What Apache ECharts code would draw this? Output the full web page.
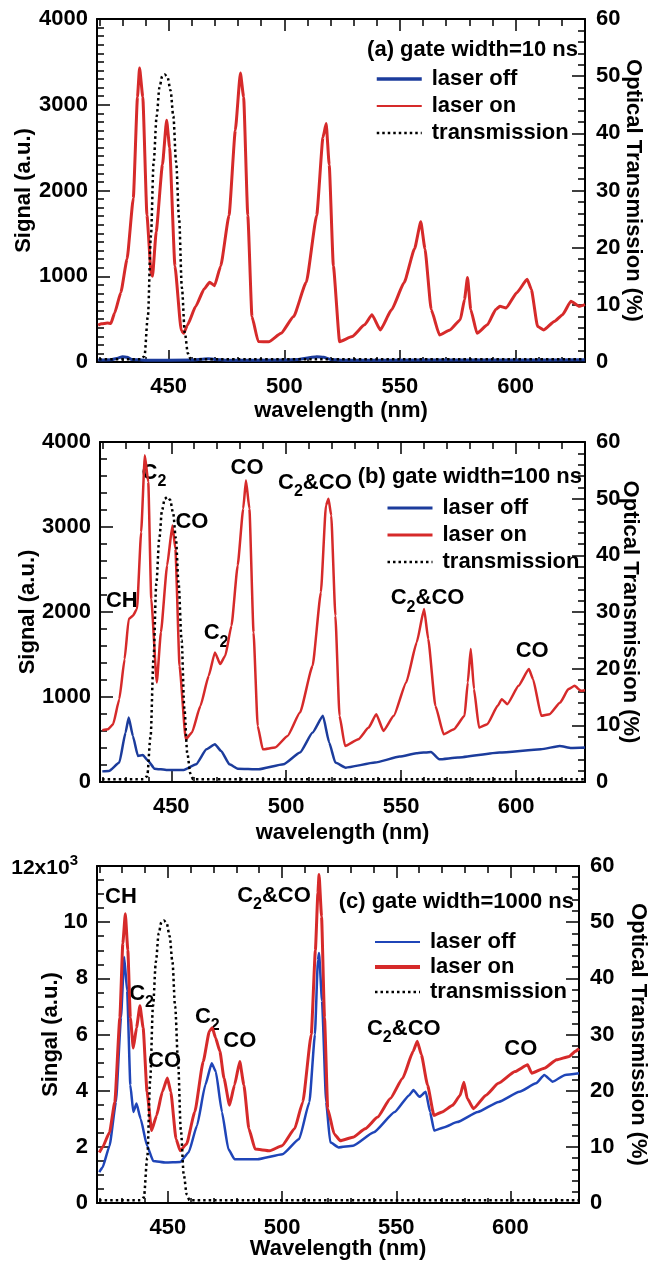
<!DOCTYPE html>
<html>
<head>
<meta charset="utf-8">
<script src="https://cdn.jsdelivr.net/npm/echarts@6/dist/echarts.min.js"></script>
<style>
  html, body { margin: 0; padding: 0; background: #fff; }
  #chart { width: 648px; height: 1263px; }
</style>
</head>
<body>
<div id="chart"></div>
<script>
// ---- axis values ----
const wavelengthTicks = [420, 430, 440, 450, 460, 470, 480, 490, 500, 510, 520, 530, 540, 550, 560, 570, 580, 590, 600, 610, 620, 630];
const wavelengthLabels = [450, 500, 550, 600];

// ---- filter transmission (%) vs wavelength (nm), same filter in every panel ----
const transmission = [[420, 0.5], [438, 0.5], [439.5, 1], [441, 8], [442.3, 22], [443.5, 35], [444.8, 43], [446, 48], [447.2, 50], [448.3, 50.3], [449.5, 49.8], [450.8, 47.5], [452, 43], [453.2, 35], [454.5, 25], [455.7, 13], [457, 5], [458.3, 1.5], [459.5, 0.5], [630, 0.5]];

// ---- (a) gate width = 10 ns ----
const laserOffA = [[419.5, 22], [425, 25], [428, 45], [430, 62], [432, 55], [434, 30], [440, 20], [460, 22], [464, 32], [467, 38], [470, 30], [475, 20], [500, 22], [506, 30], [510, 48], [514, 62], [517, 55], [520, 30], [525, 20], [560, 22], [600, 24], [630, 25]];
const laserOnA = [[419.5, 430], [421, 445], [423.5, 455], [425, 450], [426.6, 570], [429.3, 810], [432, 1200], [434.7, 1910], [436.5, 3090], [437.4, 3430], [438.8, 3090], [440.6, 1710], [442.4, 1040], [443, 1000], [444.6, 1520], [447.3, 2300], [449.1, 2820], [450.4, 2500], [452.7, 1120], [455.4, 370], [456.5, 335], [458.1, 430], [461.7, 650], [465.3, 850], [467.7, 930], [469.8, 890], [472.5, 1120], [476.1, 1710], [478.8, 2700], [481, 3370], [482.4, 3090], [484.2, 1710], [486, 530], [488.7, 240], [493.2, 235], [498.6, 335], [504, 530], [509.5, 930], [514, 1710], [516.7, 2620], [518.1, 2780], [519.4, 2300], [521.2, 1120], [523.9, 236], [529.3, 296], [534.7, 433], [537.9, 552], [541.5, 374], [546.4, 611], [551.8, 926], [556.3, 1320], [559, 1635], [560.8, 1320], [563.5, 611], [567.1, 315], [571.6, 374], [576.1, 493], [577.9, 729], [579.2, 985], [580.6, 611], [583.3, 335], [587.8, 433], [591.4, 611], [593.2, 650], [595.9, 630], [600.5, 808], [605, 965], [606.8, 847], [609.5, 414], [612.2, 374], [616.7, 473], [620.3, 552], [623.9, 709], [627.5, 650], [630, 670]];
const notesA = [];

// ---- (b) gate width = 100 ns ----
const laserOffB = [[420, 125], [422.9, 130], [427.4, 228], [430.1, 582], [431.5, 758], [433.3, 542], [435.5, 307], [437.6, 318], [440, 248], [442.7, 157], [448.2, 141], [455.4, 141], [460.8, 208], [465.3, 385], [469, 444], [471.7, 365], [475.3, 208], [478.9, 157], [488, 149], [498.8, 208], [506, 346], [511.5, 582], [516, 778], [518.7, 464], [521.4, 228], [525.9, 169], [538.6, 228], [549.4, 299], [556.6, 338], [563, 354], [566.6, 267], [574.7, 287], [592.8, 346], [610.8, 385], [619, 424], [624, 400], [630, 405]];
const laserOnB = [[420, 610], [422.5, 621], [424.7, 680], [427.4, 975], [429.7, 1446], [431.5, 1918], [433.3, 1957], [435.1, 2036], [436.9, 2940], [438.5, 3844], [440, 3529], [441.3, 2154], [443.7, 1171], [445.5, 1761], [448.2, 2547], [450.5, 3018], [451.8, 2743], [453.6, 1368], [456.3, 503], [459, 582], [462.7, 896], [466.3, 1250], [469, 1525], [471.3, 1387], [473.5, 1486], [476.2, 1839], [478.9, 2547], [481.3, 3215], [482.5, 3549], [484, 3215], [485.8, 1761], [487.6, 660], [489.8, 385], [495.2, 405], [500.6, 542], [506, 817], [511.5, 1368], [515.1, 2232], [517.3, 3254], [518.4, 3333], [519.6, 3136], [521.4, 1957], [523.2, 778], [525.6, 424], [531.4, 503], [535.9, 641], [539.2, 798], [542.3, 601], [546.8, 778], [552.2, 1171], [556.8, 1643], [560, 2036], [561.8, 1682], [564.9, 896], [568.5, 562], [573, 621], [577.6, 778], [579, 1171], [580.3, 1564], [581.7, 1093], [583.9, 641], [587.5, 680], [592, 896], [593.8, 975], [596.2, 916], [601.1, 1132], [605.6, 1328], [607.4, 1210], [611, 778], [614.6, 798], [619.2, 935], [622.8, 1093], [625.5, 1132], [628.2, 1073], [630, 1080]];
const notesB = [['CH', 428.5, 2130], ['C₂', 442.5, 3640], ['CO', 459, 3060], ['C₂', 469.5, 1750], ['CO', 483, 3700], ['C₂&CO', 512.5, 3520], ['C₂&CO', 561.5, 2160], ['CO', 607, 1545]];

// ---- (c) gate width = 1000 ns ----
const laserOffC = [[420, 1100], [421.4, 1260], [424.5, 2040], [427.3, 3600], [429.5, 6600], [430.9, 8760], [432.2, 7560], [433.6, 4200], [434.9, 3240], [436.3, 3540], [438.1, 3000], [440.9, 2040], [443.6, 1500], [449.1, 1440], [455.4, 1460], [459.1, 1800], [462.8, 2760], [466.4, 4200], [469.2, 4980], [471, 4680], [473.7, 3240], [476.5, 1920], [479.2, 1560], [489.2, 1560], [500.2, 1740], [507.5, 2280], [512, 3600], [514.4, 6000], [515.7, 8640], [516.2, 8900], [517.5, 7200], [519.3, 3600], [521.1, 2160], [524.8, 1980], [531.1, 2040], [540.2, 2520], [549.3, 3240], [555.7, 3840], [557.5, 4020], [560.2, 3780], [562.9, 3960], [564.8, 3240], [566.6, 2580], [571.1, 2700], [576.6, 2880], [585.7, 3240], [594.8, 3600], [603.9, 3960], [611.2, 4260], [614.8, 4560], [618.5, 4320], [623.9, 4560], [630, 4620]];
const laserOnC = [[420, 1800], [421.4, 1980], [424.5, 2520], [426.8, 3600], [429, 6600], [430.3, 9240], [431.4, 10300], [432.5, 9000], [433.6, 6600], [434.9, 5520], [436.3, 6240], [437.8, 7020], [439.2, 6240], [440.9, 3960], [442.9, 2580], [445.1, 3120], [447.6, 3960], [449.8, 4450], [451.3, 3960], [453.6, 2280], [455.4, 1860], [458.2, 2100], [461.8, 3240], [465.5, 5040], [468.2, 6120], [469.5, 6240], [470.9, 5880], [472.8, 5400], [474.6, 4440], [477, 3480], [479.2, 4200], [481.5, 5040], [483.3, 4200], [485.5, 2640], [488.2, 1920], [494.6, 1860], [500, 2040], [505.5, 2640], [509.1, 3600], [512.8, 6000], [514.6, 9000], [515.7, 11040], [516.2, 11700], [517.3, 10200], [518.6, 6600], [520, 3360], [522.8, 2460], [525.5, 2220], [531, 2340], [536.4, 2640], [541.9, 3060], [547.4, 3720], [552.8, 4440], [557.4, 5400], [559.2, 5760], [561, 5280], [563.7, 4200], [566.5, 3120], [570.1, 3240], [574.7, 3480], [578, 3840], [579.6, 4300], [581.1, 3720], [583.8, 3360], [589.3, 3840], [594.7, 4260], [602, 4680], [607.5, 4920], [609.3, 4620], [614.8, 4800], [620.2, 5100], [625.7, 5220], [628.4, 5400], [630, 5500]];
const notesC = [['CH', 429.5, 10900], ['C₂', 438.5, 7450], ['CO', 448.6, 5060], ['C₂', 467.3, 6620], ['CO', 481.5, 5780], ['C₂&CO', 496.5, 10930], ['C₂&CO', 553.3, 6200], ['CO', 604.5, 5480]];

// ---- shared styling ----
const FONT = '"Liberation Sans", Arial, Helvetica, sans-serif';
const BLACK = '#000';
const RED = '#d62a2a';
const BLUE = '#1c3c9c';
const BLUE_C = '#1f45b8';
const WL_MIN = 419, WL_MAX = 630;
const txt = (size) => ({ color: BLACK, fontSize: size, fontWeight: 'bold', fontFamily: FONT, textBorderWidth: 0 });
const subRich = {
  m: { ...txt(22), lineHeight: 22, verticalAlign: 'top' },
  s: { ...txt(16), lineHeight: 16, padding: [12, 0, 0, 0], verticalAlign: 'top' }
};
// "C₂&CO" -> rich text with a lowered 2
const richLabel = (s) => s.split('₂').map(p => p ? '{m|' + p + '}' : '').join('{s|2}');

const panels = [
  { id: 'a', grid: { left: 97, right: 63, top: 19, height: 343 },
    title: '(a) gate width=10 ns', titlePos: { right: 70, top: 39 },
    legendPos: { left: 375, top: 68 }, legendGap: 5,
    legendStyles: [{ color: BLUE, width: 3.5 }, { color: RED, width: 2 }],
    xName: 'wavelength (nm)', xNameGap: 38,
    yName: 'Signal (a.u.)', yNameGap: 62, yMax: 4000, yInterval: 1000, yMinor: 10,
    yFormatter: (v) => '{k|' + v + '}',
    rNameGap: 37,
    off: laserOffA, on: laserOnA, offStyle: { color: BLUE, width: 3 }, onStyle: { color: RED, width: 3 }, notes: notesA },
  { id: 'b', grid: { left: 100, right: 63, top: 442, height: 340 },
    title: '(b) gate width=100 ns', titlePos: { right: 66, top: 466 },
    legendPos: { left: 386, top: 497 }, legendGap: 5,
    legendStyles: [{ color: BLUE, width: 3 }, { color: RED, width: 3 }],
    xName: 'wavelength (nm)', xNameGap: 40,
    yName: 'Signal (a.u.)', yNameGap: 61, yMax: 4000, yInterval: 1000, yMinor: 5,
    yFormatter: (v) => '{k|' + v + '}',
    rNameGap: 34,
    off: laserOffB, on: laserOnB, offStyle: { color: BLUE, width: 2.5 }, onStyle: { color: RED, width: 2.5 }, notes: notesB },
  { id: 'c', grid: { left: 97, right: 69, top: 866, height: 337 },
    title: '(c) gate width=1000 ns', titlePos: { right: 74, top: 891 },
    legendPos: { left: 373, top: 931 }, legendGap: 3,
    legendStyles: [{ color: BLUE_C, width: 2 }, { color: RED, width: 4 }],
    xName: 'Wavelength (nm)', xNameGap: 35,
    yName: 'Singal (a.u.)', yNameGap: 35, yMax: 12000, yInterval: 2000, yMinor: 4,
    yFormatter: (v) => v === 12000 ? '{e|12x10}{p|3}' : '{k|' + (v / 1000) + '}',
    rNameGap: 48,
    off: laserOffC, on: laserOnC, offStyle: { color: BLUE_C, width: 2.5 }, onStyle: { color: RED, width: 3 }, notes: notesC }
];

const option = { animation: false, backgroundColor: '#fff', grid: [], xAxis: [], yAxis: [], series: [], legend: [], title: [] };
const tickLine = { color: BLACK, width: 1.5 };
const frameLine = { show: true, onZero: false, lineStyle: { color: BLACK, width: 2 } };

panels.forEach((p, i) => {
  option.grid.push({ ...p.grid, containLabel: false, outerBoundsMode: 'none' });
  const xBase = option.xAxis.length;
  const xCommon = { gridIndex: i, type: 'value', min: WL_MIN, max: WL_MAX, splitLine: { show: false } };
  // bottom: frame line, minor ticks and labels
  option.xAxis.push({ ...xCommon, position: 'bottom', axisLine: frameLine,
    axisTick: { inside: true, length: 5, customValues: wavelengthTicks, lineStyle: tickLine },
    axisLabel: { customValues: wavelengthLabels, margin: 14, ...txt(22), formatter: (v) => String(v) },
    name: p.xName, nameLocation: 'middle', nameGap: p.xNameGap, nameMoveOverlap: false, nameTextStyle: txt(22) });
  // bottom: long ticks at labelled wavelengths
  option.xAxis.push({ ...xCommon, position: 'bottom', axisLine: { show: false, onZero: false },
    axisTick: { inside: true, length: 12, customValues: wavelengthLabels, lineStyle: tickLine }, axisLabel: { show: false } });
  // top frame with mirrored ticks
  option.xAxis.push({ ...xCommon, position: 'top', axisLine: frameLine,
    axisTick: { inside: true, length: 7, customValues: wavelengthTicks, lineStyle: tickLine }, axisLabel: { show: false } });
  option.xAxis.push({ ...xCommon, position: 'top', axisLine: { show: false, onZero: false },
    axisTick: { inside: true, length: 12, customValues: wavelengthLabels, lineStyle: tickLine }, axisLabel: { show: false } });

  const yBase = option.yAxis.length;
  option.yAxis.push({ gridIndex: i, type: 'value', position: 'left', min: 0, max: p.yMax, interval: p.yInterval,
    axisLine: frameLine, splitLine: { show: false },
    axisTick: { inside: true, length: 13, lineStyle: tickLine },
    minorTick: { show: true, splitNumber: p.yMinor, length: 7, lineStyle: tickLine },
    axisLabel: { margin: 9, ...txt(22),
      formatter: p.yFormatter,
      rich: {
        k: { ...txt(22), verticalAlign: 'bottom' },
        e: { ...txt(21), verticalAlign: 'bottom' },
        p: { ...txt(15), verticalAlign: 'bottom', padding: [0, 10, 10, 0] }
      } },
    name: p.yName, nameLocation: 'middle', nameGap: p.yNameGap, nameMoveOverlap: false, nameTextStyle: txt(22) });
  option.yAxis.push({ gridIndex: i, type: 'value', position: 'right', min: 0, max: 60, interval: 10,
    axisLine: frameLine, splitLine: { show: false },
    axisTick: { inside: true, length: 13, lineStyle: tickLine },
    minorTick: { show: true, splitNumber: 5, length: 7, lineStyle: tickLine },
    axisLabel: { margin: 11, ...txt(22), formatter: (v) => String(v) },
    name: 'Optical Transmission (%)', nameLocation: 'middle', nameRotate: -90, nameGap: p.rNameGap,
    nameMoveOverlap: false, nameTextStyle: txt(22) });

  const lineCommon = { type: 'line', xAxisIndex: xBase, symbol: 'none', showSymbol: false, smooth: 0.15, smoothMonotone: 'x', silent: true };
  option.series.push({ ...lineCommon, name: 'laser off', yAxisIndex: yBase, data: p.off, lineStyle: p.offStyle, itemStyle: { color: p.offStyle.color } });
  option.series.push({ ...lineCommon, name: 'laser on', yAxisIndex: yBase, data: p.on, lineStyle: p.onStyle, itemStyle: { color: p.onStyle.color } });
  option.series.push({ ...lineCommon, name: 'transmission', yAxisIndex: yBase + 1, data: transmission,
    smooth: 0.3,
    lineStyle: { color: BLACK, width: 2.5, type: [2.5, 3] }, itemStyle: { color: BLACK } });
  if (p.notes.length) {
    option.series.push({ type: 'scatter', xAxisIndex: xBase, yAxisIndex: yBase, symbolSize: 0, silent: true,
      itemStyle: { opacity: 1 },
      data: p.notes.map(n => [n[1], n[2], n[0]]),
      label: { show: true, position: 'inside', color: BLACK, opacity: 1, textBorderWidth: 0, formatter: (q) => richLabel(q.data[2]), rich: subRich } });
  }

  const hiddenMark = { opacity: 0, borderWidth: 0 };
  option.legend.push({ orient: 'vertical', ...p.legendPos, padding: 0, itemWidth: 45, itemHeight: 14, itemGap: p.legendGap,
    selectedMode: false,
    textStyle: { ...txt(22), lineHeight: 22, padding: [0, 0, 0, 5] },
    data: [
      { name: 'laser off', itemStyle: hiddenMark, lineStyle: { color: p.legendStyles[0].color, width: p.legendStyles[0].width } },
      { name: 'laser on', itemStyle: hiddenMark, lineStyle: { color: p.legendStyles[1].color, width: p.legendStyles[1].width } },
      { name: 'transmission', itemStyle: hiddenMark, lineStyle: { color: BLACK, width: 2.5, type: [2.5, 3] } }
    ] });
  option.title.push({ text: p.title, ...p.titlePos, padding: 0, textStyle: txt(22) });
});

const chart = echarts.init(document.getElementById('chart'), null, { renderer: 'canvas' });
chart.setOption(option);
</script>
</body>
</html>
